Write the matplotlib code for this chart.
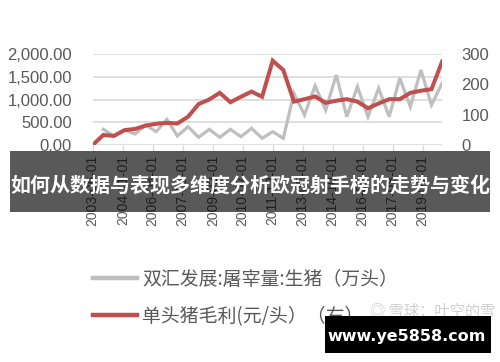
import numpy as np
import pandas as pd
import matplotlib
matplotlib.use("Agg")
import matplotlib.pyplot as plt
import matplotlib.dates as mdates
from matplotlib.patches import Rectangle

plt.rcParams['font.family'] = ['Liberation Sans', 'Noto Sans CJK SC', 'DejaVu Sans']

# ---------------------------------------------------------
# data (semi-annual)
# ---------------------------------------------------------
dates = pd.date_range("2003-06-01", periods=34, freq="6MS")

slaughter = [np.nan, 345, 198, 330, 242, 440, 293, 565, 198, 402,
             169, 345, 169, 345, 183, 367, 147, 292, 147, 1136,
             660, 1300, 769, 1539, 622, 1281, 622, 1246, 622, 1466,
             842, 1649, 879, 1356]

margin = [0, 33, 30, 49, 53, 64, 70, 73, 71, 93,
          135, 150, 172, 141, 159, 176, 159, 278, 247, 143,
          151, 160, 139, 146, 151, 143, 121, 137, 151, 151,
          172, 179, 184, 275]

tick_dates = pd.to_datetime(["2003-06-01", "2004-11-01", "2006-04-01", "2007-09-01",
                             "2009-02-01", "2010-07-01", "2011-12-01", "2013-05-01",
                             "2014-10-01", "2016-03-01", "2017-08-01", "2019-01-01"])

label_gray = "双汇发展:屠宰量:生猪（万头）"
label_red = "单头猪毛利(元/头）（右）"
banner_text = "如何从数据与表现多维度分析欧冠射手榜的走势与变化"

txt_color = "#595959"
grid_color = "#D9D9D9"

# ---------------------------------------------------------
# figure
# ---------------------------------------------------------
fig = plt.figure(figsize=(5.0, 3.62), dpi=100)
ax = fig.add_axes([92.7 / 500, 1 - 145 / 362, 349.4 / 500, 91 / 362])
ax2 = ax.twinx()

l1, = ax.plot(dates, slaughter, color="#BFBFBF", lw=2.3, solid_joinstyle="miter")
l2, = ax2.plot(dates, margin, color="#C0504D", lw=2.9, solid_joinstyle="miter")
ax2.set_zorder(ax.get_zorder() + 1)
ax.patch.set_visible(False)

ax.set_xlim(dates[0], dates[-1])
ax.set_ylim(0, 2000)
ax2.set_ylim(0, 300)
ax.set_yticks([0, 500, 1000, 1500, 2000])
ax.set_yticklabels([format(v, ",.2f") for v in [0, 500, 1000, 1500, 2000]])
ax2.set_yticks([0, 100, 200, 300])

ax.grid(axis="y", color=grid_color, lw=1.2)
ax.set_axisbelow(True)
for a in (ax, ax2):
    for s in a.spines.values():
        s.set_visible(False)

ax.set_xticks(tick_dates)
ax.xaxis.set_major_formatter(mdates.DateFormatter("%Y-%m-%d"))
ax.tick_params(axis="x", direction="out", length=4, width=1, color=grid_color,
               labelsize=10, labelcolor=txt_color, rotation=90, pad=3)
ax.tick_params(axis="y", length=0, labelsize=12, labelcolor=txt_color, pad=15)
ax2.tick_params(axis="y", length=0, labelsize=12, labelcolor=txt_color, pad=14)

# legend
fig.legend([l1, l2], [label_gray, label_red], loc="upper left",
           bbox_to_anchor=(93 / 500, 1 - 269 / 362), frameon=False,
           prop={"family": ["Noto Sans CJK SC"], "size": 13.6},
           handlelength=2.35, handletextpad=0.25, labelspacing=0.85,
           labelcolor=txt_color, borderaxespad=0, borderpad=0)
for h in fig.legends[0].legend_handles:
    h.set_linewidth(3.2)

# watermark
fig.text(370 / 500, 1 - 311 / 362, "◎ 雪球：叶空的雪", color="#D0D0D0", fontsize=11,
         family=["Noto Sans CJK SC"], va="center", ha="left")

# overlay banner
fig.patches.append(Rectangle((10 / 500, 1 - 212 / 362), 480 / 500, 61 / 362,
                             transform=fig.transFigure, facecolor="black",
                             alpha=0.65, edgecolor="none", zorder=10))
fig.text(0.5, 1 - 185 / 362, banner_text, color="white", fontsize=14.4, weight="bold",
         family=["Noto Sans CJK SC"], ha="center", va="center", zorder=11)

# site box
fig.patches.append(Rectangle((325 / 500, 1 - 353 / 362), 166 / 500, 37 / 362,
                             transform=fig.transFigure, facecolor="black",
                             edgecolor="none", zorder=10))
fig.text(407 / 500, 1 - 337 / 362, "www.ye5858.com", color="white", fontsize=11.5,
         weight="bold", family=["DejaVu Sans"], ha="center", va="center", zorder=11)

plt.savefig("out.png", dpi=100)
